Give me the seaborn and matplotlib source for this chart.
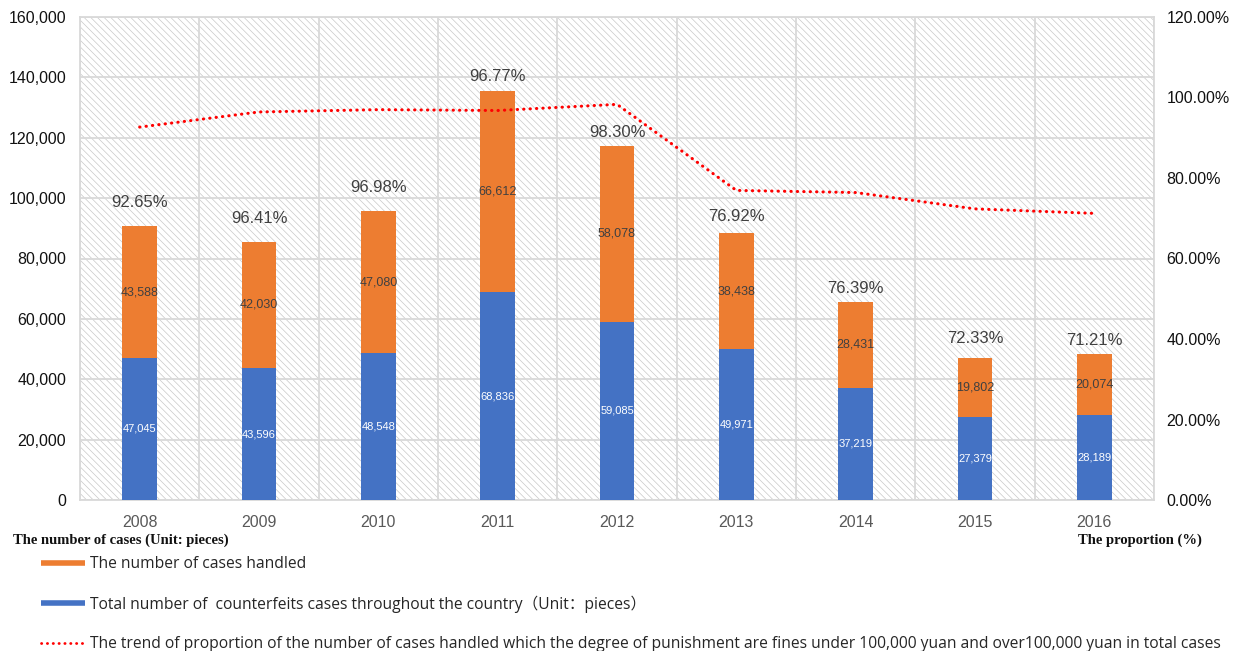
import numpy as np
import pandas as pd
import matplotlib
matplotlib.use("Agg")
import matplotlib.pyplot as plt
from matplotlib.patches import Rectangle
from matplotlib.lines import Line2D
from matplotlib.ticker import FuncFormatter, FixedLocator
import seaborn as sns

# ---- data -------------------------------------------------------------
years = ["2008", "2009", "2010", "2011", "2012", "2013", "2014", "2015", "2016"]
total_cases = [47045, 43596, 48548, 68836, 59085, 49971, 37219, 27379, 28189]
handled_cases = [43588, 42030, 47080, 66612, 58078, 38438, 28431, 19802, 20074]
proportion = [92.65, 96.41, 96.98, 96.77, 98.30, 76.92, 76.39, 72.33, 71.21]

# vertical gap (points) between each stacked bar and its percentage label
pct_label_gap = [12, 11, 11.5, 5, 4.5, 6.5, 4.5, 8.5, 4.5]

# ---- style ------------------------------------------------------------
sns.set_theme(style="white")
plt.rcParams["font.family"] = ["Liberation Sans", "DejaVu Sans"]
plt.rcParams["hatch.linewidth"] = 0.5

ORANGE = "#ED7D31"
BLUE = "#4472C4"
RED = "#FF0000"
GRID = "#D9D9D9"

df = pd.DataFrame({
    "year": years,
    "total": total_cases,
    "handled": handled_cases,
    "stack_top": np.add(total_cases, handled_cases),
    "pos": np.arange(len(years)),
    "proportion": proportion,
})

fig = plt.figure(figsize=(12.33, 6.51), dpi=100)
W, H = 1233, 651
ax = fig.add_axes([80 / W, 1 - 500 / H, (1154 - 80) / W, (500 - 17) / H])

# hatched plot background
ax.add_patch(Rectangle((0, 0), 1, 1, transform=ax.transAxes, facecolor="white",
                       edgecolor="#C8C8C8", hatch="\\\\\\\\\\", linewidth=0, zorder=0.1))

# stacked bars: full stack in orange, lower part in blue on top of it
sns.barplot(data=df, x="year", y="stack_top", color=ORANGE, saturation=1,
            width=0.29, ax=ax, zorder=2, linewidth=0)
sns.barplot(data=df, x="year", y="total", color=BLUE, saturation=1,
            width=0.29, ax=ax, zorder=3, linewidth=0)

ax.set_xlim(-0.5, len(years) - 0.5)
ax.set_ylim(0, 160000)
ax.set_yticks(np.arange(0, 160001, 20000))
ax.yaxis.set_major_formatter(FuncFormatter(lambda v, p: f"{int(v):,}"))
ax.set_xlabel("")
ax.set_ylabel("")

ax.xaxis.set_minor_locator(FixedLocator(np.arange(-0.5, len(years), 1.0)))
ax.set_axisbelow(True)
ax.grid(axis="y", which="major", color=GRID, linewidth=1.3)
ax.grid(axis="x", which="minor", color=GRID, linewidth=1.3)
ax.grid(axis="x", which="major", visible=False)
for s in ax.spines.values():
    s.set_color(GRID)
    s.set_linewidth(1.3)

ax.tick_params(axis="y", which="major", length=0, pad=10, labelsize=11.5, labelcolor="#111111")
ax.tick_params(axis="x", which="major", length=0, pad=11, labelsize=11.5, labelcolor="#595959")
ax.tick_params(axis="x", which="minor", length=4, width=1.3, color=GRID, direction="out")

# value labels inside segments
for i in range(len(years)):
    ax.text(i, total_cases[i] / 2, f"{total_cases[i]:,}", ha="center", va="center",
            fontsize=8, color="white", zorder=5)
    ax.text(i, total_cases[i] + handled_cases[i] / 2, f"{handled_cases[i]:,}",
            ha="center", va="center", fontsize=9, color="#404040", zorder=5)
    ax.annotate(f"{proportion[i]:.2f}%", xy=(i, total_cases[i] + handled_cases[i]),
                xytext=(0, pct_label_gap[i]), textcoords="offset points",
                ha="center", va="bottom", fontsize=12, color="#404040", zorder=5)

# proportion trend on the secondary axis
ax2 = ax.twinx()
sns.lineplot(data=df, x="pos", y="proportion", ax=ax2, color=RED, linewidth=2.2,
             linestyle=(0, (0.1, 2.0)), dash_capstyle="round", zorder=6)
ax2.set_ylim(0, 120)
ax2.set_yticks(np.arange(0, 121, 20))
ax2.yaxis.set_major_formatter(FuncFormatter(lambda v, p: f"{v:.2f}%"))
ax2.set_xlim(-0.5, len(years) - 0.5)
ax2.set_xlabel("")
ax2.set_ylabel("")
ax2.grid(False)
for s in ax2.spines.values():
    s.set_visible(False)
ax2.tick_params(axis="y", length=0, pad=9, labelsize=11.5, labelcolor="#111111")

# axis titles under the plot
fig.text(13 / W, 1 - 540 / H, "The number of cases (Unit: pieces)", ha="left", va="center",
         fontsize=10.5, fontweight="bold", family="Liberation Serif", color="#111111")
fig.text(1078 / W, 1 - 540 / H, "The proportion (%)", ha="left", va="center",
         fontsize=10.5, fontweight="bold", family="Liberation Serif", color="#111111")

# legend
handles = [
    Line2D([], [], color=ORANGE, linewidth=4, solid_capstyle="butt"),
    Line2D([], [], color=BLUE, linewidth=4, solid_capstyle="butt"),
    Line2D([], [], color=RED, linewidth=2.0, linestyle=(0, (0.1, 2.0)), dash_capstyle="round"),
]
labels = [
    "The number of cases handled",
    "Total number of  counterfeits cases throughout the country（Unit：pieces）",
    "The trend of proportion of the number of cases handled which the degree of punishment "
    "are fines under 100,000 yuan and over100,000 yuan in total cases",
]
leg = fig.legend(handles, labels, loc="upper left", bbox_to_anchor=(41 / W, 1 - 556 / H),
                 frameon=False, handlelength=2.8, handletextpad=0.34,
                 labelspacing=1.5, borderpad=0, borderaxespad=0,
                 prop={"family": ["Open Sans", "Noto Sans CJK SC", "DejaVu Sans"], "size": 11.25})
for t in leg.get_texts():
    t.set_color("#262626")

fig.savefig("out.png", dpi=100)
